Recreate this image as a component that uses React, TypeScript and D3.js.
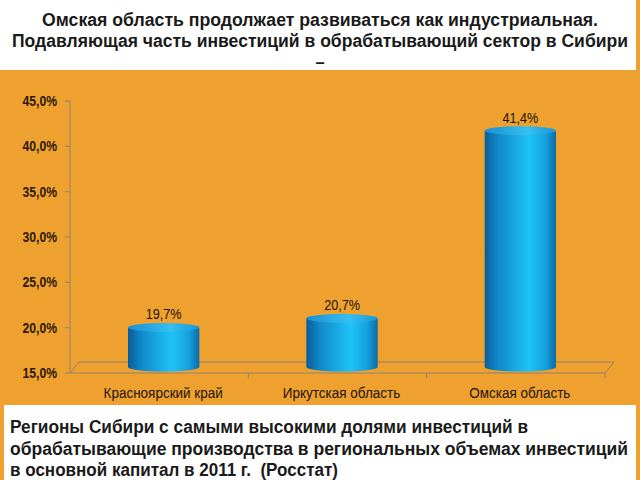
import React from 'react';
import * as d3 from 'd3';

const categories = ['Красноярский край', 'Иркутская область', 'Омская область'];
const values = [19.7, 20.7, 41.4];
const yTicks = [15, 20, 25, 30, 35, 40, 45];
const titleLines = [
  'Омская область продолжает развиваться как индустриальная.',
  'Подавляющая часть инвестиций в обрабатывающий сектор в Сибири',
  '–',
];
const titleWidths = [556, 616, 0];
const noteLines = [
  'Регионы Сибири с самыми высокими долями инвестиций в',
  'обрабатывающие производства в региональных объемах инвестиций',
  'в основной капитал в 2011 г.  (Росстат)',
];
const noteWidths = [518, 618, 328];

const W = 640;
const H = 480;
const orange = '#EFA12F';
const axisColor = '#8d8272';
const font = '"Liberation Sans", Arial, sans-serif';
const squeeze = 0.87;

// narrow text: squeeze glyphs horizontally around the anchor point
function Narrow(props: { x: number; y: number; children: React.ReactNode } & React.SVGProps<SVGTextElement>) {
  const { x, y, children, ...rest } = props;
  return (
    <text transform={`translate(${x},${y}) scale(${squeeze},1)`} {...rest}>
      {children}
    </text>
  );
}

export default function App() {
  const left = 70;
  const right = 605;
  const depthX = 9;
  const depthY = 11;

  const y = d3.scaleLinear().domain([15, 45]).range([373, 101]);
  const x = d3.scaleBand().domain(categories).range([left, right]).paddingInner(0.6).paddingOuter(0.3);
  const xTicks = d3.scaleBand().domain(categories).range([left, right]);
  const fmt = (v: number) => d3.format('.1f')(v).replace('.', ',') + '%';

  const floorY = y(15);
  const ry = 4.5;

  return (
    <svg width={W} height={H} style={{ position: 'absolute', left: 0, top: 0 }} fontFamily={font}>
      <defs>
        <linearGradient id="cyl" x1="0" x2="1" y1="0" y2="0">
          <stop offset="0%" stopColor="#0b5c99" />
          <stop offset="18%" stopColor="#1088c9" />
          <stop offset="62%" stopColor="#1ec3f7" />
          <stop offset="85%" stopColor="#15a2de" />
          <stop offset="100%" stopColor="#0c6aa8" />
        </linearGradient>
        <linearGradient id="cylTop" x1="0" x2="1" y1="0" y2="0">
          <stop offset="0%" stopColor="#1a8fd0" />
          <stop offset="60%" stopColor="#35bff2" />
          <stop offset="100%" stopColor="#1a96d6" />
        </linearGradient>
      </defs>
      <rect x={0} y={0} width={W} height={H} fill={orange} />
      <rect x={0} y={0} width={636} height={70} fill="#ffffff" />
      <rect x={4} y={405} width={632} height={75} fill="#ffffff" />

      {titleLines.map((t, i) => (
        <g key={i} transform={`translate(320,${26 + i * 21}) scale(1,1.12)`}>
          <text
            x={0}
            y={0}
            textAnchor="middle"
            fontSize={16.5}
            fontWeight="bold"
            fill="#1a1a1a"
            {...(titleWidths[i] ? { textLength: titleWidths[i], lengthAdjust: 'spacingAndGlyphs' } : {})}
          >
            {t}
          </text>
        </g>
      ))}

      {noteLines.map((t, i) => (
        <g key={i} transform={`translate(10,${433 + i * 21.5}) scale(1,1.1)`}>
          <text
            x={0}
            y={0}
            fontSize={16}
            fontWeight="bold"
            fill="#1a1a1a"
            style={{ whiteSpace: 'pre' }}
            textLength={noteWidths[i]}
            lengthAdjust="spacingAndGlyphs"
          >
            {t}
          </text>
        </g>
      ))}

      {/* floor */}
      <polygon
        points={`${left},${floorY} ${left + depthX},${floorY - depthY} ${right + depthX},${floorY - depthY} ${right},${floorY}`}
        fill={orange}
        stroke={axisColor}
        strokeWidth={1}
      />

      {/* y axis */}
      <line x1={left} x2={left} y1={y(45)} y2={floorY} stroke={axisColor} />
      {yTicks.map((t) => (
        <g key={t}>
          <line x1={left - 5} x2={left} y1={y(t)} y2={y(t)} stroke={axisColor} />
          <Narrow x={57} y={y(t) + 5} textAnchor="end" fontSize={14} fontWeight="bold" fill="#2b1a08">
            {fmt(t)}
          </Narrow>
        </g>
      ))}

      {/* category ticks */}
      {categories.map((c) => (
        <line
          key={c}
          x1={(xTicks(c) as number) + xTicks.bandwidth()}
          x2={(xTicks(c) as number) + xTicks.bandwidth()}
          y1={floorY}
          y2={floorY + 5}
          stroke={axisColor}
        />
      ))}

      {/* cylinders */}
      {categories.map((c, i) => {
        const x0 = (x(c) as number) + depthX / 2;
        const w = x.bandwidth();
        const cx = x0 + w / 2;
        const top = y(values[i]) - 3;
        const bottom = floorY - 6;
        return (
          <g key={c}>
            <path
              d={`M${x0},${top} L${x0},${bottom} A${w / 2},${ry} 0 0 0 ${x0 + w},${bottom} L${x0 + w},${top} Z`}
              fill="url(#cyl)"
            />
            <ellipse cx={cx} cy={top} rx={w / 2} ry={ry} fill="url(#cylTop)" />
            <Narrow x={cx} y={y(values[i]) - 11} textAnchor="middle" fontSize={14.5} fill="#1e1408">
              {fmt(values[i])}
            </Narrow>
          </g>
        );
      })}

      {/* category labels */}
      {categories.map((c) => (
        <Narrow
          key={c}
          x={(xTicks(c) as number) + xTicks.bandwidth() / 2 + 4}
          y={398}
          textAnchor="middle"
          fontSize={15.5}
          fill="#1e1408"
        >
          {c}
        </Narrow>
      ))}
    </svg>
  );
}
